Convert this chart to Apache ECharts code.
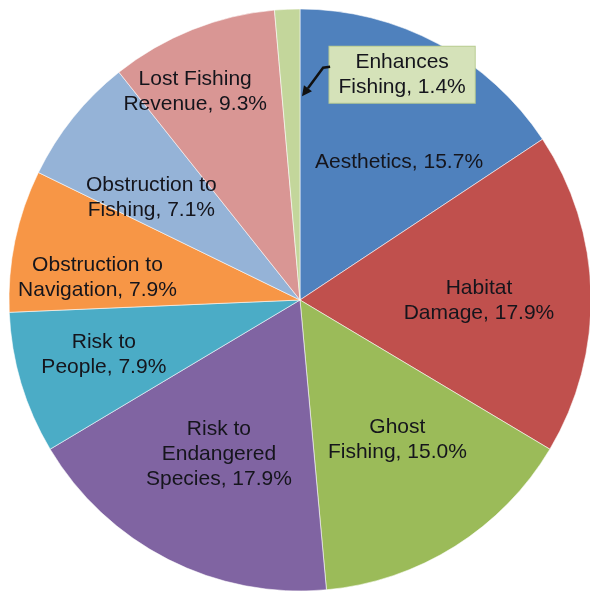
<!DOCTYPE html>
<html>
<head>
<meta charset="utf-8">
<script src="https://cdn.jsdelivr.net/npm/echarts@6/dist/echarts.min.js"></script>
<style>
  html, body { margin: 0; padding: 0; background: #ffffff; }
  #chart { width: 590px; height: 594px; }
</style>
</head>
<body>
<div id="chart"></div>
<script>
// Reported impacts of derelict fishing gear (share of responses, %)
const categories = [
  'Aesthetics',
  'Habitat\nDamage',
  'Ghost\nFishing',
  'Risk to\nEndangered\nSpecies',
  'Risk to\nPeople',
  'Obstruction to\nNavigation',
  'Obstruction to\nFishing',
  'Lost Fishing\nRevenue',
  'Enhances\nFishing'
];
const shares = [15.7, 17.9, 15.0, 17.9, 7.9, 7.9, 7.1, 9.3, 1.4];

// Slice fills, in the same order as the categories
const sliceColors = [
  '#4f81bd', '#c0504d', '#9bbb59', '#8064a2', '#4bacc6',
  '#f79646', '#95b3d7', '#d99694', '#c3d69b'
];

// Label placement: fraction of the radius and angular shift (deg) from slice middle
const labelRadius = [0.584, 0.615, 0.585, 0.60, 0.70, 0.70, 0.62, 0.80, 0.85];
const labelShift  = [7.4, 1.6, -2.7, 0.7, 1.0, -5.6, -4.2, -5.0, 26.9];

const CX = 300, CY = 300, R = 291;
const total = shares.reduce((a, b) => a + b, 0);

// middle angle of each slice, clockwise from 12 o'clock (degrees)
const midAngles = [];
{
  let acc = 0;
  shares.forEach(v => { midAngles.push((acc + v / 2) / total * 360); acc += v; });
}

function polar(deg, dist) {
  const a = deg * Math.PI / 180;
  return [CX + dist * Math.sin(a), CY - dist * Math.cos(a)];
}

const chart = echarts.init(document.getElementById('chart'), null, { renderer: 'canvas' });

const calloutIndex = categories.length - 1;

const option = {
  animation: false,
  backgroundColor: '#ffffff',
  series: [{
    type: 'pie',
    center: [CX, CY],
    radius: [0, R],
    startAngle: 90,
    clockwise: true,
    avoidLabelOverlap: false,
    itemStyle: { borderColor: 'rgba(255,255,255,0.55)', borderWidth: 1 },
    emphasis: { disabled: true },
    label: {
      show: true,
      position: 'inside',
      fontFamily: 'Liberation Sans, Arial, sans-serif',
      fontSize: 21,
      lineHeight: 25,
      color: '#15151c',
      align: 'center',
      formatter: p => p.name + ', ' + p.value.toFixed(1) + '%'
    },
    labelLine: { show: false },
    labelLayout: params => {
      const i = params.dataIndex;
      const pt = polar(midAngles[i] + labelShift[i], labelRadius[i] * R);
      return { x: pt[0], y: pt[1], align: 'center', verticalAlign: 'middle' };
    },
    data: categories.map((name, i) => {
      const item = { name, value: shares[i], itemStyle: { color: sliceColors[i] } };
      if (i === calloutIndex) {
        item.label = {
          backgroundColor: '#d5e2b9',
          borderColor: '#b9cc92',
          borderWidth: 1,
          padding: [4, 9, 2, 9]
        };
      }
      return item;
    })
  }]
};

chart.setOption(option);

// Leader arrow from the callout box to the edge of the small slice
{
  const i = calloutIndex;
  const labelPt = polar(midAngles[i] + labelShift[i], labelRadius[i] * R);
  // the slice's trailing edge (clockwise end) is at 360 deg
  const tip = polar(360, 0.70 * R);
  tip[0] += 2;
  const tail = [labelPt[0] - 72, labelPt[1] - 8];
  const bend = [tail[0] - 7, tail[1] + 1];
  const ang = Math.atan2(tip[1] - bend[1], tip[0] - bend[0]);
  const headLen = 10, headHalf = 5;
  const base = [tip[0] - headLen * Math.cos(ang), tip[1] - headLen * Math.sin(ang)];
  const nx = -Math.sin(ang), ny = Math.cos(ang);
  chart.setOption({
    graphic: [
      {
        type: 'polyline',
        shape: { points: [tail, bend, base] },
        style: { stroke: '#111', lineWidth: 2.5, fill: null },
        z: 10
      },
      {
        type: 'polygon',
        shape: { points: [tip, [base[0] + nx * headHalf, base[1] + ny * headHalf], [base[0] - nx * headHalf, base[1] - ny * headHalf]] },
        style: { fill: '#111' },
        z: 10
      }
    ]
  });
}
</script>
</body>
</html>
